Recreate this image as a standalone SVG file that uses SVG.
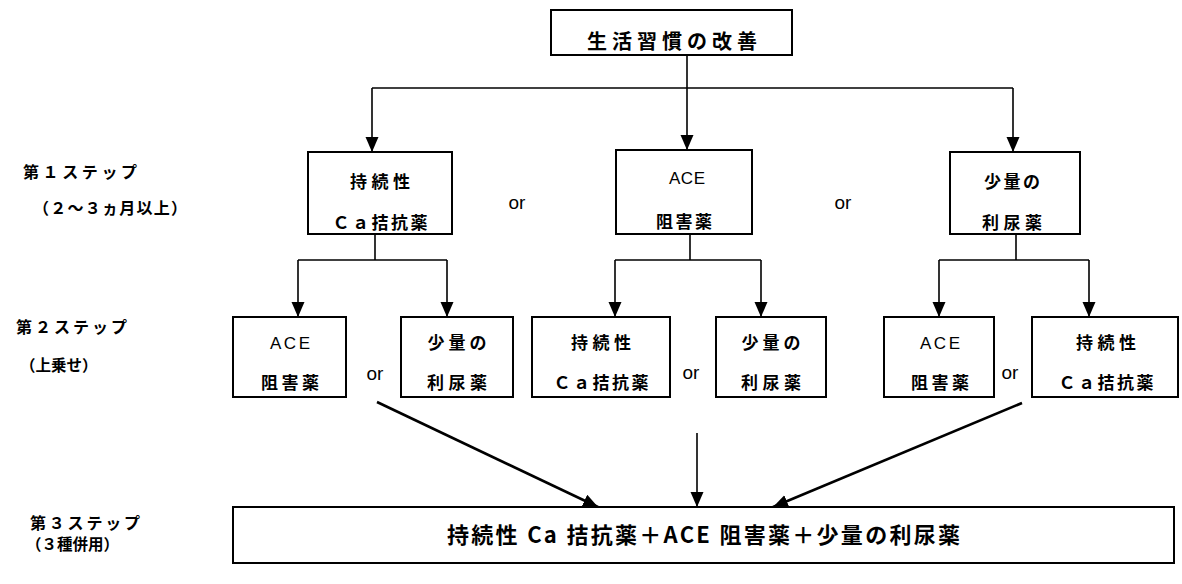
<svg xmlns="http://www.w3.org/2000/svg" width="1182" height="584" viewBox="0 0 1182 584">
<style>
.box{fill:#fff;stroke:#000;stroke-width:2}
.ln{fill:none;stroke:#000;stroke-width:1.6}
.dg{fill:none;stroke:#000;stroke-width:2.6}
.jp{font-family:"Noto Sans CJK JP","Liberation Sans",sans-serif;font-weight:bold;fill:#000}
.la{font-family:"Liberation Sans","Noto Sans CJK JP",sans-serif;fill:#000}
.bt{font-size:17px;text-anchor:middle}
.or{font-size:19px;text-anchor:middle}
.lab{font-size:16px}
.lab2{font-size:15.5px}
</style>
<defs>
<marker id="ah" markerUnits="userSpaceOnUse" markerWidth="16" markerHeight="14" refX="15" refY="6.5" orient="auto">
<path d="M0,0 L15,6.5 L0,13 z" fill="#000"/>
</marker>
</defs>
<rect width="1182" height="584" fill="#fff"/>

<g id="labels">
<text class="jp lab" x="23" y="178" textLength="114">第１ステップ</text>
<text class="jp lab" x="33" y="214" textLength="154">（２～３ヵ月以上）</text>
<text class="jp lab" x="16" y="333" textLength="111">第２ステップ</text>
<text class="jp lab2" x="20" y="371">（上乗せ）</text>
<text class="jp lab" x="30" y="529" textLength="110">第３ステップ</text>
<text class="jp lab2" x="26" y="550">（３種併用）</text>
</g>

<g id="connectors">
<line class="ln" x1="687" y1="55" x2="687" y2="150" marker-end="url(#ah)"/>
<line class="ln" x1="372" y1="88" x2="1013" y2="88"/>
<line class="ln" x1="372" y1="88" x2="372" y2="152" marker-end="url(#ah)"/>
<line class="ln" x1="1013" y1="88" x2="1013" y2="152" marker-end="url(#ah)"/>

<line class="ln" x1="375" y1="234" x2="375" y2="260"/>
<line class="ln" x1="298" y1="260" x2="447" y2="260"/>
<line class="ln" x1="298" y1="260" x2="298" y2="317" marker-end="url(#ah)"/>
<line class="ln" x1="447" y1="260" x2="447" y2="317" marker-end="url(#ah)"/>

<line class="ln" x1="690" y1="234" x2="690" y2="260"/>
<line class="ln" x1="615" y1="260" x2="761" y2="260"/>
<line class="ln" x1="615" y1="260" x2="615" y2="317" marker-end="url(#ah)"/>
<line class="ln" x1="761" y1="260" x2="761" y2="317" marker-end="url(#ah)"/>

<line class="ln" x1="1016" y1="234" x2="1016" y2="260"/>
<line class="ln" x1="939" y1="260" x2="1089" y2="260"/>
<line class="ln" x1="939" y1="260" x2="939" y2="317" marker-end="url(#ah)"/>
<line class="ln" x1="1089" y1="260" x2="1089" y2="317" marker-end="url(#ah)"/>

<line class="dg" x1="377" y1="402" x2="598" y2="507" marker-end="url(#ah)"/>
<line class="ln" x1="697" y1="433" x2="697" y2="507" marker-end="url(#ah)"/>
<line class="dg" x1="1022" y1="403" x2="773" y2="507" marker-end="url(#ah)"/>
</g>

<g id="top">
<rect class="box" x="551" y="10" width="241" height="45"/>
<text class="jp" x="587" y="49" font-size="20" textLength="170">生活習慣の改善</text>
</g>

<g id="s1-ca">
<rect class="box" x="308" y="152" width="144" height="82"/>
<text class="jp bt" x="380" y="188" textLength="60">持続性</text>
<text class="jp bt" x="380" y="229" textLength="95">Ｃａ拮抗薬</text>
</g>
<g id="s1-ace">
<rect class="box" x="616" y="150" width="136" height="84"/>
<text class="la bt" x="687" y="184" textLength="36">ACE</text>
<text class="jp bt" x="684" y="228" textLength="56">阻害薬</text>
</g>
<g id="s1-diu">
<rect class="box" x="950" y="152" width="130" height="82"/>
<text class="jp bt" x="1012" y="188" textLength="56">少量の</text>
<text class="jp bt" x="1012" y="229" textLength="60">利尿薬</text>
</g>
<text class="la or" x="517" y="209">or</text>
<text class="la or" x="843" y="209">or</text>

<g id="s2-a">
<rect class="box" x="233" y="317" width="113" height="80"/>
<text class="la bt" x="290" y="349" textLength="40">ACE</text>
<text class="jp bt" x="290" y="389" textLength="58">阻害薬</text>
</g>
<g id="s2-b">
<rect class="box" x="401" y="317" width="112" height="80"/>
<text class="jp bt" x="457" y="349" textLength="59">少量の</text>
<text class="jp bt" x="457" y="389" textLength="60">利尿薬</text>
</g>
<g id="s2-c">
<rect class="box" x="532" y="317" width="138" height="80"/>
<text class="jp bt" x="601" y="349" textLength="60">持続性</text>
<text class="jp bt" x="601" y="389" textLength="95">Ｃａ拮抗薬</text>
</g>
<g id="s2-d">
<rect class="box" x="716" y="317" width="110" height="80"/>
<text class="jp bt" x="771" y="349" textLength="59">少量の</text>
<text class="jp bt" x="771" y="389" textLength="60">利尿薬</text>
</g>
<g id="s2-e">
<rect class="box" x="884" y="317" width="110" height="80"/>
<text class="la bt" x="940" y="349" textLength="40">ACE</text>
<text class="jp bt" x="940" y="389" textLength="58">阻害薬</text>
</g>
<g id="s2-f">
<rect class="box" x="1032" y="317" width="146" height="80"/>
<text class="jp bt" x="1106" y="349" textLength="60">持続性</text>
<text class="jp bt" x="1106" y="389" textLength="95">Ｃａ拮抗薬</text>
</g>
<text class="la or" x="375" y="380">or</text>
<text class="la or" x="691" y="379">or</text>
<text class="la or" x="1010" y="379">or</text>

<g id="s3">
<rect class="box" x="233" y="507" width="941" height="56"/>
<text class="jp" x="447" y="543" font-size="22" textLength="513">持続性 Ca 拮抗薬＋ACE 阻害薬＋少量の利尿薬</text>
</g>
</svg>
